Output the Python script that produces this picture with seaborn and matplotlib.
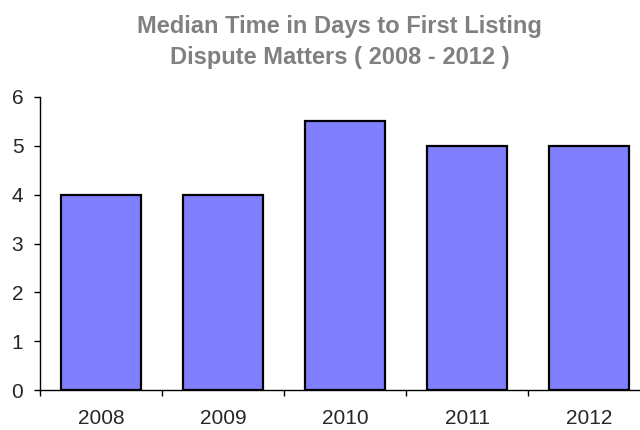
import matplotlib
matplotlib.use("Agg")
import matplotlib.pyplot as plt
import seaborn as sns
import pandas as pd

# Data
years = ["2008", "2009", "2010", "2011", "2012"]
median_days = [4, 4, 5.5, 5, 5]
y_ticks = [0, 1, 2, 3, 4, 5, 6]

df = pd.DataFrame({"year": years, "days": median_days})

sns.set_style("white")
plt.rcParams["font.family"] = ["Liberation Sans", "DejaVu Sans"]

fig = plt.figure(figsize=(6.4, 4.3), dpi=100)
ax = fig.add_axes([40 / 640, 40 / 430, 610 / 640, 293 / 430])

sns.barplot(data=df, x="year", y="days", color="#8080FF", saturation=1,
            edgecolor="black", linewidth=1.6, width=0.66, ax=ax)

ax.set_xlim(-0.5, len(years) - 0.5)
ax.set_ylim(0, 6)
ax.set_yticks(y_ticks)
ax.set_xlabel("")
ax.set_ylabel("")

# tick marks sit on the category boundaries, labels in the middle
ax.set_xticks([i + 0.5 for i in range(-1, len(years))], minor=False)
ax.set_xticklabels([])
ax.set_xticks(range(len(years)), minor=True)
ax.set_xticklabels(years, minor=True)
ax.tick_params(axis="x", which="major", bottom=True, direction="out", length=4, width=1, color="black")
ax.tick_params(axis="x", which="minor", bottom=True, length=0, labelsize=15, pad=13.5)
ax.tick_params(axis="y", left=True, direction="out", length=4, width=1, color="black", labelsize=15, pad=8)

for side in ["top", "right"]:
    ax.spines[side].set_visible(False)
for side in ["left", "bottom"]:
    ax.spines[side].set_color("black")
    ax.spines[side].set_linewidth(1)

fig.text(0.531, 1 - 33 / 430, "Median Time in Days to First Listing",
         ha="center", va="baseline", fontsize=17, fontweight="bold", color="#808080")
fig.text(0.531, 1 - 64 / 430, "Dispute Matters ( 2008 - 2012 )",
         ha="center", va="baseline", fontsize=17, fontweight="bold", color="#808080")

fig.savefig("out.png", dpi=100)
